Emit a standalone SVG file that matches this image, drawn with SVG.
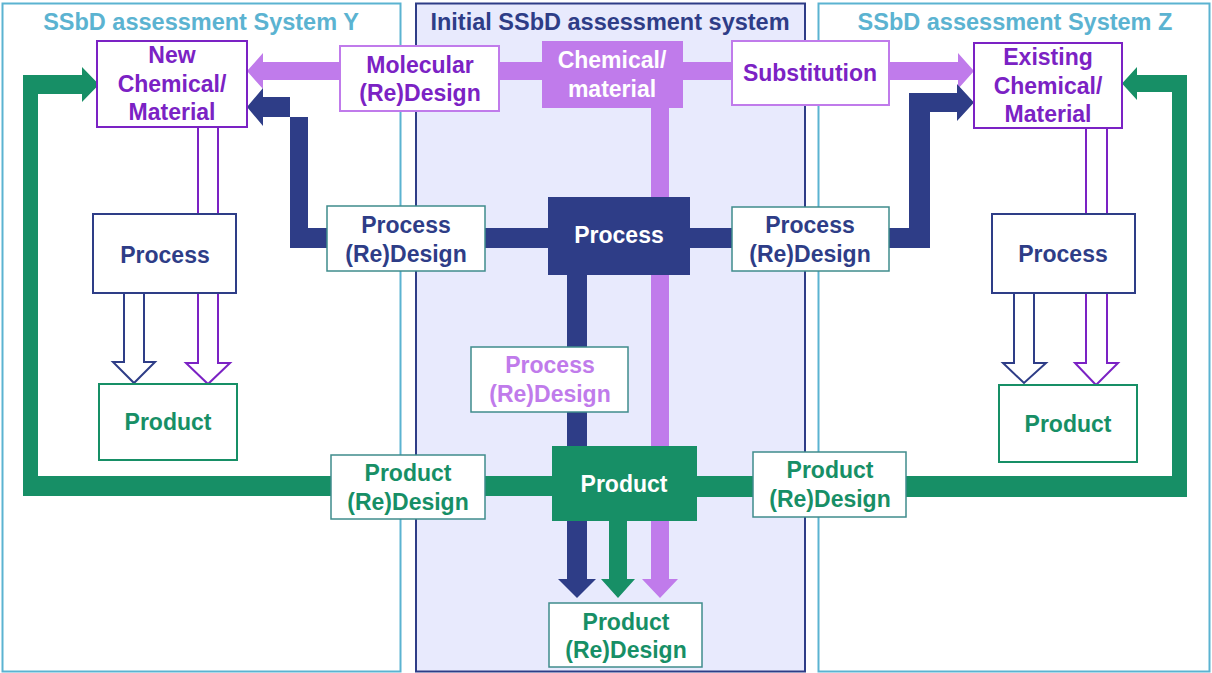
<svg xmlns="http://www.w3.org/2000/svg" width="1212" height="673" viewBox="0 0 1212 673">
<style>
text{font-family:"Liberation Sans",Arial,sans-serif;font-weight:bold;font-size:23px;text-anchor:middle}
.title{font-size:23.5px}
.navy{fill:#2E3D87}
.purple{fill:#7B22C4}
.lp{fill:#C07BEB}
.green{fill:#178F66}
.white{fill:#ffffff}
.lb{fill:#5BB3D1}
.box{fill:#ffffff;stroke-width:2}
.lbl{fill:#ffffff;stroke:#3F8C8C;stroke-width:1.5}
.hollow{fill:#ffffff;stroke-width:2;stroke-linejoin:miter}
</style>
<rect width="1212" height="673" fill="#ffffff"/>
<g id="frames">
<rect x="2.5" y="3.5" width="398" height="668" fill="#ffffff" stroke="#5BB3D1" stroke-width="2"/>
<rect x="416" y="3.5" width="389" height="668" fill="#E8EAFD" stroke="#2E3D87" stroke-width="2"/>
<rect x="818.5" y="3.5" width="391" height="668" fill="#ffffff" stroke="#5BB3D1" stroke-width="2"/>
<text class="title lb" x="201" y="30">SSbD assessment System Y</text>
<text class="title navy" x="610" y="30">Initial SSbD assessment system</text>
<text class="title lb" x="1015" y="30">SSbD assessment System Z</text>
</g>
<g id="connectors">
<!-- light purple horizontal with two heads -->
<polygon fill="#C07BEB" points="263,62 958,62 958,53 974,71 958,89 958,80 263,80 263,89 247,71 263,53"/>
<!-- light purple vertical -->
<polygon fill="#C07BEB" points="651,100 669,100 669,579 678,579 660,598 642,579 651,579"/>
<!-- navy left -->
<polygon fill="#2E3D87" points="552,228 308,228 308,117 263,117 263,126 247,107 263,88 263,97 290,97 290,248 552,248"/>
<!-- navy right -->
<polygon fill="#2E3D87" points="686,228 909,228 909,93 957,93 957,84 974,102.5 957,121 957,112 930,112 930,248 686,248"/>
<!-- navy vertical down -->
<polygon fill="#2E3D87" points="567,270 587,270 587,579 596,579 577,598 558,579 567,579"/>
<!-- green left loop -->
<polygon fill="#178F66" points="556,476 38,476 38,94 82,94 82,102 99,84.5 82,67 82,75 23,75 23,496 556,496"/>
<!-- green right loop -->
<polygon fill="#178F66" points="693,476 1172,476 1172,92 1137,92 1137,100 1122,83.5 1137,67 1137,75 1187,75 1187,497 693,497"/>
<!-- green vertical down -->
<polygon fill="#178F66" points="609,515 627,515 627,579 635,579 618,598 601,579 609,579"/>
<!-- hollow arrows left -->
<polygon class="hollow" stroke="#7B22C4" points="198,127 218,127 218,363 230,363 208,384 186,363 198,363"/>
<polygon class="hollow" stroke="#2E3D87" points="124,293 144,293 144,362 155,362 134,383 113,362 124,362"/>
<!-- hollow arrows right -->
<polygon class="hollow" stroke="#7B22C4" points="1086,128 1107,128 1107,363 1118,363 1096,385 1075,363 1086,363"/>
<polygon class="hollow" stroke="#2E3D87" points="1014,293 1034,293 1034,363 1046,363 1024,383 1003,363 1014,363"/>
</g>
<g id="new-chemical">
<rect class="box" stroke="#7B22C4" x="97" y="41" width="150" height="86"/>
<text class="purple" x="172" y="63">New</text>
<text class="purple" x="172" y="92">Chemical/</text>
<text class="purple" x="172" y="120">Material</text>
</g>
<g id="molecular-redesign">
<rect class="box" stroke="#C07BEB" stroke-width="1.5" x="340" y="46" width="159" height="65"/>
<text class="purple" x="420" y="73">Molecular</text>
<text class="purple" x="420" y="101">(Re)Design</text>
</g>
<g id="chemical-material">
<rect fill="#C07BEB" x="542" y="41" width="141" height="67"/>
<text class="white" x="612" y="68">Chemical/</text>
<text class="white" x="612" y="97">material</text>
</g>
<g id="substitution">
<rect class="box" stroke="#C07BEB" stroke-width="1.5" x="732" y="41" width="157" height="64"/>
<text class="purple" x="810" y="81">Substitution</text>
</g>
<g id="existing-chemical">
<rect class="box" stroke="#7B22C4" x="974" y="43" width="148" height="85"/>
<text class="purple" x="1048" y="65">Existing</text>
<text class="purple" x="1048" y="94">Chemical/</text>
<text class="purple" x="1048" y="122">Material</text>
</g>
<g id="process-y">
<rect class="box" stroke="#2E3D87" x="93" y="214" width="143" height="79"/>
<text class="navy" x="165" y="263">Process</text>
</g>
<g id="process-redesign-y">
<rect class="lbl" x="327" y="206" width="158" height="65"/>
<text class="navy" x="406" y="233">Process</text>
<text class="navy" x="406" y="262">(Re)Design</text>
</g>
<g id="process-center">
<rect fill="#2E3D87" x="548" y="197" width="142" height="78"/>
<text class="white" x="619" y="243">Process</text>
</g>
<g id="process-redesign-z">
<rect class="lbl" x="732" y="207" width="157" height="64"/>
<text class="navy" x="810" y="233">Process</text>
<text class="navy" x="810" y="262">(Re)Design</text>
</g>
<g id="process-z">
<rect class="box" stroke="#2E3D87" x="992" y="214" width="143" height="79"/>
<text class="navy" x="1063" y="262">Process</text>
</g>
<g id="process-redesign-center">
<rect class="lbl" x="471" y="347" width="157" height="65"/>
<text class="lp" x="550" y="373">Process</text>
<text class="lp" x="550" y="402">(Re)Design</text>
</g>
<g id="product-y">
<rect class="box" stroke="#178F66" x="99" y="384" width="138" height="76"/>
<text class="green" x="168" y="430">Product</text>
</g>
<g id="product-z">
<rect class="box" stroke="#178F66" x="999" y="385" width="138" height="77"/>
<text class="green" x="1068" y="432">Product</text>
</g>
<g id="product-redesign-y">
<rect class="lbl" x="331" y="455" width="154" height="64"/>
<text class="green" x="408" y="481">Product</text>
<text class="green" x="408" y="510">(Re)Design</text>
</g>
<g id="product-center">
<rect fill="#178F66" x="552" y="446" width="145" height="75"/>
<text class="white" x="624" y="492">Product</text>
</g>
<g id="product-redesign-z">
<rect class="lbl" x="753" y="452" width="153" height="65"/>
<text class="green" x="830" y="478">Product</text>
<text class="green" x="830" y="507">(Re)Design</text>
</g>
<g id="product-redesign-bottom">
<rect class="lbl" x="549" y="603" width="153" height="64"/>
<text class="green" x="626" y="630">Product</text>
<text class="green" x="626" y="658">(Re)Design</text>
</g>
</svg>
